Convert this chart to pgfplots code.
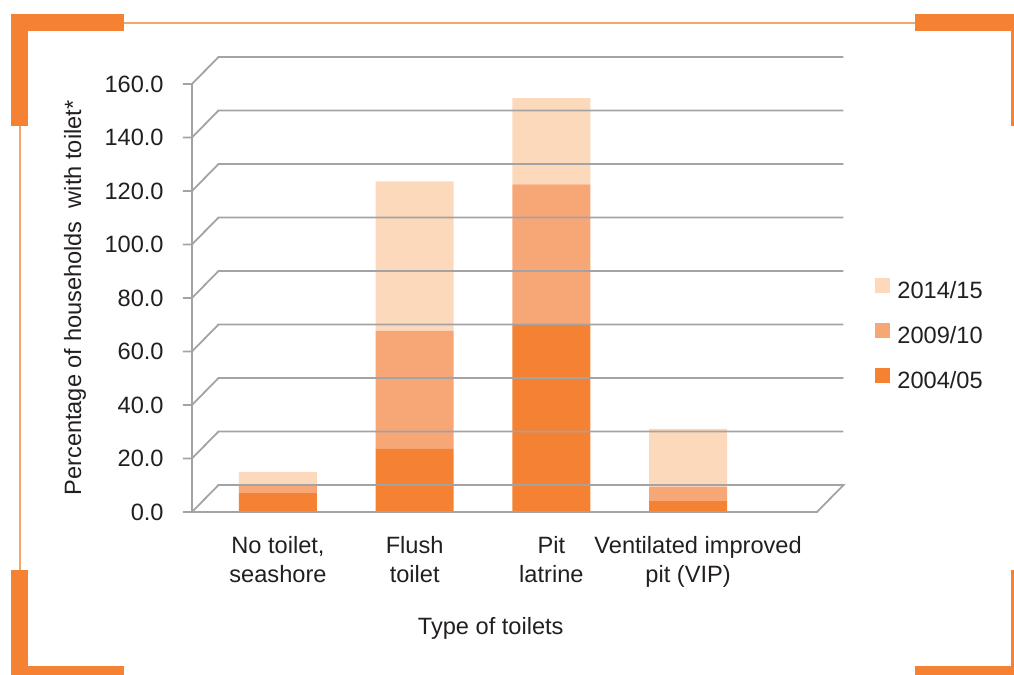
\documentclass[border=0pt]{standalone}
\usepackage{pgfplots}
\pgfplotsset{compat=1.18}
\usepackage{fontspec}
\setmainfont{Liberation Sans}
\definecolor{oA}{HTML}{F58233}
\definecolor{oB}{HTML}{F7A776}
\definecolor{oC}{HTML}{FDD9BC}
\definecolor{frameO}{HTML}{F58232}
\definecolor{thinO}{HTML}{F8A56C}
\definecolor{gridc}{HTML}{A3A3A6}
\definecolor{txt}{HTML}{231F20}
\newcommand{\lblfont}{\fontsize{11.8}{14.5}\selectfont}
\begin{document}
\begin{tikzpicture}
\begin{scope}[x=0.5pt,y=-0.5pt,yshift=337.5pt]
 \useasboundingbox (0,0) rectangle (1014,675);
 % thin lines
 \draw[thinO, line width=0.75pt] (124,23) -- (915,23);
 \draw[thinO, line width=0.75pt] (20,126) -- (20,570);
 % corners
 \fill[frameO] (11,14) rectangle (124,31);
 \fill[frameO] (11,14) rectangle (28,126);
 \fill[frameO] (915,14) rectangle (1014,31);
 \fill[frameO] (1011,14) rectangle (1014,126);
 \fill[frameO] (11,570) rectangle (28,675);
 \fill[frameO] (11,666) rectangle (124,675);
 \fill[frameO] (915,666) rectangle (1014,675);
 \fill[frameO] (1011,570) rectangle (1014,675);
\end{scope}
\begin{axis}[
  at={(96pt,81.5pt)}, anchor=south west,
  scale only axis, width=312.5pt, height=214pt,
  xmin=-0.629, xmax=3.943, ymin=0, ymax=160,
  clip=false,
  axis line style={draw=none},
  major tick length=0pt, tick style={draw=none},
  ytick={0,20,40,60,80,100,120,140,160},
  xtick={0,1,2,3},
  xticklabels={{No toilet,\\seashore},{Flush\\toilet},{Pit\\latrine},{\hspace*{10pt}Ventilated improved\\pit (VIP)}},
  /pgf/number format/.cd, fixed, fixed zerofill, precision=1, assume math mode=true, /pgfplots/.cd,
  yticklabel style={font=\lblfont, text=txt, anchor=east, inner sep=0pt, xshift=-14pt},
  xticklabel style={font=\lblfont, text=txt, anchor=north, inner sep=0pt, yshift=-12pt, align=center},
  ylabel={Percentage of households\ \ with toilet*},
  ylabel style={font=\lblfont, text=txt, at={(axis description cs:-0.187,0.5)}, anchor=center},
  xlabel={Type of toilets},
  xlabel style={font=\lblfont, text=txt, at={(axis description cs:0.478,-0.271)}, anchor=center},
  ybar stacked, bar width=39pt,
  reverse legend,
  legend style={at={(axis description cs:1.0928,0.5487)}, anchor=north west, draw=none, fill=none,
    inner sep=0pt, font=\lblfont, text=txt, row sep=11.9pt, column sep=3.5pt,
    nodes={inner sep=0pt, text height=8.6pt, text depth=0pt}},
  legend cell align=left,
  legend image code/.code={\fill[#1] (0pt,-1.2pt) rectangle (7.5pt,6.3pt);},
]
% 3D-like grid
\pgfplotsinvokeforeach{20,40,60,80,100,120,140,160}{
  \draw[gridc, line width=0.9pt] ([xshift=-4.5pt]axis cs:-0.629,#1) -- (axis cs:-0.629,#1) -- ++(13.25pt,13.5pt) -- ([xshift=13.25pt,yshift=13.5pt]axis cs:3.943,#1);
}
\draw[gridc, line width=0.9pt] ([xshift=-4.5pt]axis cs:-0.629,0) -- (axis cs:3.943,0) -- ++(13.25pt,13.5pt) -- ([xshift=13.25pt,yshift=13.5pt]axis cs:-0.629,0) -- (axis cs:-0.629,0);
\draw[gridc, line width=0.9pt] (axis cs:-0.629,0) -- (axis cs:-0.629,160);
\addplot[fill=oA, draw=none] coordinates {(0,7.1) (1,23.6) (2,70.1) (3,4.1)};
\addplot[fill=oB, draw=none] coordinates {(0,2.6) (1,44.2) (2,52.4) (3,5.3)};
\addplot[fill=oC, draw=none] coordinates {(0,5.3) (1,55.8) (2,32.2) (3,21.7)};
\legend{2004/05,2009/10,2014/15}
\end{axis}
\end{tikzpicture}
\end{document}
